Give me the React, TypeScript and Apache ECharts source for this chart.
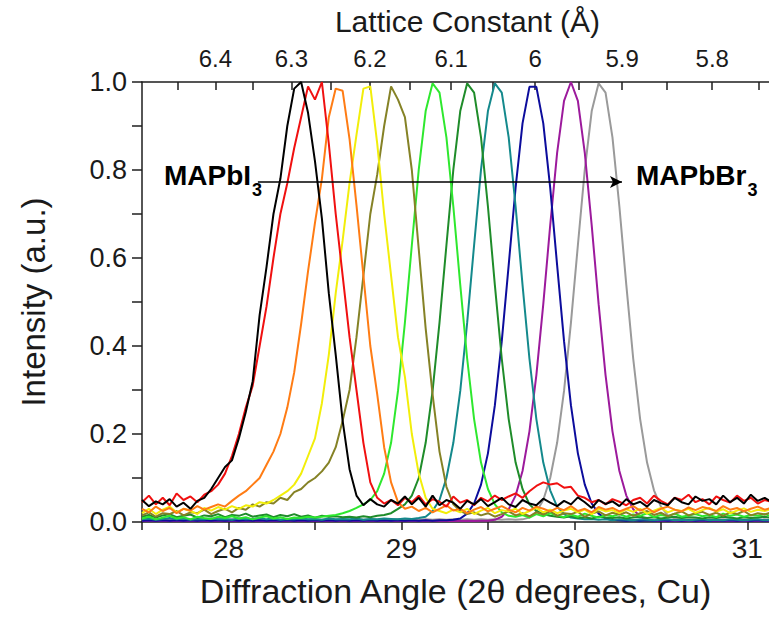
import React, { useEffect, useRef } from 'react';
import * as echarts from 'echarts';

const FONT = "'Liberation Sans', Arial, Helvetica, sans-serif";

// 2θ sampling grid (degrees)
const ANGLES = [
  27.50, 27.54, 27.58, 27.62, 27.66, 27.70, 27.74, 27.78, 27.82, 27.86,
  27.90, 27.94, 27.98, 28.02, 28.06, 28.10, 28.14, 28.18, 28.22, 28.26,
  28.30, 28.34, 28.38, 28.42, 28.46, 28.50, 28.54, 28.58, 28.62, 28.66,
  28.70, 28.74, 28.78, 28.82, 28.86, 28.90, 28.94, 28.98, 29.02, 29.06,
  29.10, 29.14, 29.18, 29.22, 29.26, 29.30, 29.34, 29.38, 29.42, 29.46,
  29.50, 29.54, 29.58, 29.62, 29.66, 29.70, 29.74, 29.78, 29.82, 29.86,
  29.90, 29.94, 29.98, 30.02, 30.06, 30.10, 30.14, 30.18, 30.22, 30.26,
  30.30, 30.34, 30.38, 30.42, 30.46, 30.50, 30.54, 30.58, 30.62, 30.66,
  30.70, 30.74, 30.78, 30.82, 30.86, 30.90, 30.94, 30.98, 31.02, 31.06,
  31.10, 31.14,
];

const BLACK = [
  0.050, 0.036, 0.047, 0.040, 0.052, 0.035, 0.044, 0.030, 0.048, 0.055,
  0.075, 0.100, 0.125, 0.140, 0.190, 0.250, 0.320, 0.470, 0.580, 0.700,
  0.780, 0.900, 0.985, 1.000, 0.930, 0.820, 0.690, 0.520, 0.380, 0.230,
  0.120, 0.060, 0.038, 0.052, 0.040, 0.035, 0.050, 0.042, 0.058, 0.040,
  0.055, 0.035, 0.060, 0.038, 0.050, 0.044, 0.030, 0.048, 0.040, 0.052,
  0.036, 0.045, 0.055, 0.040, 0.034, 0.050, 0.042, 0.038, 0.053, 0.044,
  0.036, 0.048, 0.040, 0.056, 0.045, 0.032, 0.050, 0.041, 0.047, 0.036,
  0.052, 0.040, 0.046, 0.035, 0.050, 0.043, 0.038, 0.055, 0.045, 0.040,
  0.058, 0.048, 0.052, 0.040, 0.060, 0.045, 0.055, 0.042, 0.062, 0.048,
  0.055, 0.045,
];

const RED = [
  0.045, 0.060, 0.040, 0.055, 0.038, 0.065, 0.050, 0.058, 0.045, 0.062,
  0.070, 0.085, 0.110, 0.150, 0.200, 0.260, 0.310, 0.400, 0.490, 0.600,
  0.700, 0.770, 0.850, 0.920, 0.990, 0.960, 1.000, 0.860, 0.700, 0.560,
  0.420, 0.300, 0.180, 0.090, 0.055, 0.042, 0.050, 0.038, 0.055, 0.045,
  0.060, 0.040, 0.052, 0.046, 0.035, 0.058, 0.044, 0.050, 0.038, 0.055,
  0.047, 0.060, 0.050, 0.058, 0.065, 0.055, 0.070, 0.082, 0.090, 0.085,
  0.088, 0.078, 0.080, 0.060, 0.055, 0.045, 0.050, 0.040, 0.052, 0.046,
  0.038, 0.050, 0.055, 0.042, 0.060, 0.048, 0.040, 0.055, 0.050, 0.062,
  0.045, 0.052, 0.040, 0.058, 0.050, 0.044, 0.060, 0.048, 0.055, 0.042,
  0.050, 0.046,
];

const ORANGE = [
  0.030, 0.022, 0.035, 0.025, 0.032, 0.020, 0.030, 0.026, 0.036, 0.028,
  0.034, 0.040, 0.035, 0.048, 0.060, 0.070, 0.085, 0.100, 0.130, 0.160,
  0.200, 0.260, 0.340, 0.450, 0.570, 0.680, 0.780, 0.920, 0.985, 0.980,
  0.870, 0.720, 0.560, 0.400, 0.290, 0.170, 0.090, 0.045, 0.030, 0.035,
  0.025, 0.032, 0.022, 0.030, 0.038, 0.026, 0.030, 0.020, 0.028, 0.034,
  0.024, 0.030, 0.036, 0.028, 0.022, 0.032, 0.026, 0.035, 0.030, 0.024,
  0.032, 0.027, 0.036, 0.025, 0.030, 0.022, 0.034, 0.028, 0.032, 0.024,
  0.030, 0.036, 0.026, 0.032, 0.022, 0.030, 0.035, 0.028, 0.024, 0.033,
  0.027, 0.034, 0.030, 0.025, 0.036, 0.028, 0.032, 0.024, 0.030, 0.035,
  0.028, 0.032,
];

const YELLOW = [
  0.020, 0.030, 0.018, 0.028, 0.035, 0.022, 0.030, 0.025, 0.018, 0.032,
  0.026, 0.034, 0.028, 0.036, 0.030, 0.038, 0.035, 0.045, 0.042, 0.050,
  0.060, 0.070, 0.085, 0.110, 0.150, 0.190, 0.270, 0.380, 0.520, 0.640,
  0.770, 0.880, 0.985, 0.990, 0.860, 0.700, 0.560, 0.420, 0.330, 0.200,
  0.110, 0.055, 0.030, 0.025, 0.020, 0.028, 0.022, 0.030, 0.018, 0.026,
  0.032, 0.020, 0.027, 0.024, 0.030, 0.018, 0.025, 0.032, 0.022, 0.028,
  0.020, 0.026, 0.030, 0.022, 0.028, 0.018, 0.030, 0.024, 0.027, 0.020,
  0.029, 0.023, 0.030, 0.019, 0.026, 0.032, 0.022, 0.028, 0.025, 0.030,
  0.021, 0.027, 0.032, 0.024, 0.029, 0.020, 0.026, 0.031, 0.023, 0.028,
  0.025, 0.030,
];

const OLIVE = [
  0.015, 0.022, 0.012, 0.020, 0.018, 0.025, 0.015, 0.022, 0.020, 0.028,
  0.018, 0.025, 0.030, 0.022, 0.032, 0.028, 0.040, 0.035, 0.045, 0.042,
  0.055, 0.050, 0.068, 0.075, 0.090, 0.100, 0.115, 0.135, 0.170, 0.230,
  0.300, 0.420, 0.560, 0.700, 0.790, 0.900, 0.990, 0.960, 0.920, 0.800,
  0.620, 0.440, 0.290, 0.160, 0.080, 0.040, 0.025, 0.018, 0.022, 0.015,
  0.020, 0.012, 0.018, 0.024, 0.015, 0.020, 0.013, 0.022, 0.017, 0.025,
  0.014, 0.020, 0.018, 0.023, 0.012, 0.019, 0.024, 0.015, 0.021, 0.017,
  0.022, 0.014, 0.020, 0.025, 0.016, 0.021, 0.013, 0.019, 0.024, 0.015,
  0.020, 0.023, 0.016, 0.021, 0.014, 0.022, 0.018, 0.025, 0.015, 0.020,
  0.017, 0.022,
];

const GREEN = [
  0.008, 0.012, 0.006, 0.010, 0.014, 0.008, 0.011, 0.006, 0.012, 0.009,
  0.007, 0.012, 0.009, 0.013, 0.008, 0.011, 0.006, 0.010, 0.013, 0.008,
  0.011, 0.007, 0.010, 0.009, 0.012, 0.010, 0.012, 0.014, 0.016, 0.020,
  0.025, 0.032, 0.040, 0.050, 0.070, 0.110, 0.180, 0.298, 0.453, 0.629,
  0.801, 0.934, 0.997, 0.976, 0.874, 0.717, 0.539, 0.371, 0.234, 0.135,
  0.075, 0.040, 0.022, 0.014, 0.012, 0.016, 0.010, 0.018, 0.013, 0.020,
  0.015, 0.011, 0.017, 0.012, 0.019, 0.014, 0.010, 0.016, 0.013, 0.018,
  0.012, 0.017, 0.014, 0.020, 0.011, 0.016, 0.013, 0.019, 0.012, 0.015,
  0.018, 0.013, 0.016, 0.011, 0.019, 0.014, 0.017, 0.012, 0.016, 0.014,
  0.018, 0.013,
];

const DARK_GREEN = [
  0.012, 0.016, 0.010, 0.015, 0.018, 0.011, 0.014, 0.017, 0.010, 0.015,
  0.013, 0.018, 0.011, 0.016, 0.014, 0.019, 0.012, 0.015, 0.017, 0.011,
  0.016, 0.013, 0.018, 0.012, 0.015, 0.010, 0.014, 0.012, 0.013, 0.011,
  0.012, 0.010, 0.013, 0.011, 0.014, 0.016, 0.020, 0.030, 0.040, 0.060,
  0.100, 0.180, 0.298, 0.453, 0.629, 0.801, 0.934, 0.997, 0.976, 0.874,
  0.717, 0.539, 0.371, 0.234, 0.135, 0.075, 0.040, 0.025, 0.018, 0.014,
  0.012, 0.010, 0.013, 0.009, 0.011, 0.008, 0.012, 0.010, 0.009, 0.011,
  0.008, 0.010, 0.012, 0.009, 0.011, 0.008, 0.010, 0.012, 0.009, 0.011,
  0.010, 0.008, 0.011, 0.009, 0.012, 0.010, 0.008, 0.011, 0.009, 0.010,
  0.012, 0.009,
];

const TEAL = [
  0.006, 0.008, 0.005, 0.007, 0.009, 0.006, 0.008, 0.005, 0.007, 0.006,
  0.008, 0.006, 0.007, 0.005, 0.008, 0.006, 0.007, 0.009, 0.006, 0.008,
  0.005, 0.007, 0.006, 0.008, 0.006, 0.007, 0.005, 0.008, 0.006, 0.007,
  0.006, 0.008, 0.005, 0.007, 0.006, 0.008, 0.007, 0.006, 0.008, 0.007,
  0.009, 0.012, 0.025, 0.050, 0.100, 0.180, 0.298, 0.453, 0.629, 0.801,
  0.934, 0.997, 0.976, 0.874, 0.717, 0.539, 0.371, 0.234, 0.135, 0.072,
  0.035, 0.018, 0.010, 0.008, 0.006, 0.007, 0.005, 0.006, 0.004, 0.006,
  0.005, 0.004, 0.006, 0.005, 0.004, 0.005, 0.006, 0.004, 0.005, 0.004,
  0.005, 0.006, 0.004, 0.005, 0.004, 0.006, 0.005, 0.004, 0.005, 0.006,
  0.004, 0.005,
];

const BLUE = [
  0.003, 0.004, 0.003, 0.004, 0.003, 0.004, 0.003, 0.004, 0.003, 0.004,
  0.003, 0.004, 0.003, 0.004, 0.003, 0.004, 0.003, 0.004, 0.003, 0.004,
  0.003, 0.004, 0.003, 0.004, 0.003, 0.004, 0.003, 0.004, 0.003, 0.004,
  0.003, 0.004, 0.003, 0.004, 0.003, 0.004, 0.003, 0.004, 0.003, 0.004,
  0.003, 0.004, 0.003, 0.004, 0.004, 0.005, 0.008, 0.019, 0.042, 0.085,
  0.156, 0.265, 0.411, 0.584, 0.760, 0.906, 0.989, 0.989, 0.906, 0.760,
  0.584, 0.411, 0.265, 0.156, 0.085, 0.042, 0.019, 0.008, 0.005, 0.004,
  0.003, 0.004, 0.003, 0.004, 0.003, 0.004, 0.003, 0.004, 0.003, 0.004,
  0.003, 0.004, 0.003, 0.004, 0.003, 0.004, 0.003, 0.004, 0.003, 0.004,
  0.003, 0.004,
];

const PURPLE = [
  0.002, 0.003, 0.002, 0.003, 0.002, 0.003, 0.002, 0.003, 0.002, 0.003,
  0.002, 0.003, 0.002, 0.003, 0.002, 0.003, 0.002, 0.003, 0.002, 0.003,
  0.002, 0.003, 0.002, 0.003, 0.002, 0.003, 0.002, 0.003, 0.002, 0.003,
  0.002, 0.003, 0.002, 0.003, 0.002, 0.003, 0.002, 0.003, 0.002, 0.003,
  0.002, 0.003, 0.002, 0.003, 0.002, 0.003, 0.002, 0.003, 0.002, 0.003,
  0.003, 0.005, 0.012, 0.029, 0.060, 0.116, 0.206, 0.334, 0.495, 0.674,
  0.839, 0.957, 1.000, 0.957, 0.839, 0.674, 0.495, 0.334, 0.206, 0.116,
  0.060, 0.029, 0.012, 0.005, 0.003, 0.002, 0.003, 0.002, 0.003, 0.002,
  0.003, 0.002, 0.003, 0.002, 0.003, 0.002, 0.003, 0.002, 0.003, 0.002,
  0.003, 0.002,
];

const GRAY = [
  0.005, 0.006, 0.005, 0.006, 0.005, 0.006, 0.005, 0.006, 0.005, 0.006,
  0.005, 0.006, 0.005, 0.006, 0.005, 0.006, 0.005, 0.006, 0.005, 0.006,
  0.005, 0.006, 0.005, 0.006, 0.005, 0.006, 0.005, 0.006, 0.005, 0.006,
  0.005, 0.006, 0.005, 0.006, 0.005, 0.006, 0.005, 0.006, 0.005, 0.006,
  0.005, 0.006, 0.005, 0.006, 0.005, 0.006, 0.005, 0.006, 0.005, 0.006,
  0.005, 0.006, 0.005, 0.006, 0.005, 0.006, 0.010, 0.023, 0.050, 0.100,
  0.180, 0.298, 0.453, 0.629, 0.801, 0.934, 0.997, 0.976, 0.874, 0.717,
  0.539, 0.371, 0.234, 0.135, 0.072, 0.035, 0.015, 0.008, 0.006, 0.005,
  0.006, 0.005, 0.006, 0.005, 0.006, 0.005, 0.006, 0.005, 0.006, 0.005,
  0.006, 0.005,
];

const CURVES = [
  { name: 'Scan 11', color: '#9a9a9a', values: GRAY },
  { name: 'Scan 10', color: '#9c1a9c', values: PURPLE },
  { name: 'Scan 9', color: '#0c0c9c', values: BLUE },
  { name: 'Scan 8', color: '#14898c', values: TEAL },
  { name: 'Scan 7', color: '#1f8c2a', values: DARK_GREEN },
  { name: 'Scan 6', color: '#2ee82e', values: GREEN },
  { name: 'Scan 5', color: '#858226', values: OLIVE },
  { name: 'Scan 4', color: '#f2ee0a', values: YELLOW },
  { name: 'Scan 3', color: '#ff7c14', values: ORANGE },
  { name: 'Scan 2', color: '#f01010', values: RED },
  { name: 'Scan 1', color: '#000000', values: BLACK },
];

// axis ranges / ticks
const X_MIN = 27.5;
const X_MAX = 31.125;
const X_INTERVAL = 0.5;
const Y_MIN = 0;
const Y_MAX = 1;
const Y_INTERVAL = 0.2;

// top axis: lattice constant (Å)
const LATTICE_TICKS = [6.45, 6.4, 6.35, 6.3, 6.25, 6.2, 6.15, 6.1, 6.05, 6.0, 5.95, 5.9, 5.85, 5.8, 5.75];
const LATTICE_LABELS = [6.4, 6.3, 6.2, 6.1, 6.0, 5.9, 5.8];
// calibration of the top scale: 2θ = 2·asin(λ/a) + offset (fitted to the reference's tick marks)
const CAL_WAVELENGTH = 1.5029;
const CAL_OFFSET = 0.761;
const latticeToAngle = (a: number) => (2 * Math.asin(CAL_WAVELENGTH / a) * 180) / Math.PI + CAL_OFFSET;
const angleToLattice = (t: number) => CAL_WAVELENGTH / Math.sin((((t - CAL_OFFSET) / 2) * Math.PI) / 180);

// annotation arrow (data coordinates)
const ARROW_Y = 0.773;
const ARROW_START = 28.17;
const ARROW_END = 30.275;
const LEFT_LABEL_ANCHOR = 28.2;
const LEFT_LABEL = ['MAPbI', '3'];
const RIGHT_LABEL = ['MAPbBr', '3'];

const RICH = {
  m: { fontSize: 28, fontWeight: 'bold', color: '#000', fontFamily: FONT, lineHeight: 28, padding: [0, 0, 12, 0] },
  s: { fontSize: 18, fontWeight: 'bold', color: '#000', fontFamily: FONT, lineHeight: 18, padding: [16, 0, 0, 1] },
};

export default function App() {
  const ref = useRef<HTMLDivElement | null>(null);

  useEffect(() => {
    if (!ref.current) return;
    const chart = echarts.init(ref.current, undefined, { renderer: 'svg' });
    const axisColor = '#1e1e1e';
    const textColor = '#1a1a1a';

    const series: any[] = CURVES.map((c) => ({
      name: c.name,
      type: 'line',
      xAxisIndex: 0,
      yAxisIndex: 0,
      data: ANGLES.map((a, i) => [a, c.values[i]]),
      showSymbol: false,
      symbol: 'none',
      lineStyle: { color: c.color, width: 2 },
      itemStyle: { color: c.color },
      clip: true,
      silent: true,
    }));

    series[series.length - 1].markLine = {
      silent: true,
      animation: false,
      data: [
        [
          {
            coord: [ARROW_START, ARROW_Y],
            symbol: 'none',
            lineStyle: { color: '#000', width: 1.6, type: 'solid' },
            label: {
              show: true,
              position: 'end',
              distance: 14,
              formatter: `{m|${RIGHT_LABEL[0]}}{s|${RIGHT_LABEL[1]}}`,
              rich: RICH,
            },
          },
          { coord: [ARROW_END, ARROW_Y], symbol: 'arrow', symbolSize: [9, 12] },
        ],
        [
          {
            coord: [LEFT_LABEL_ANCHOR, ARROW_Y],
            symbol: 'none',
            lineStyle: { color: 'rgba(0,0,0,0)', width: 1, type: 'solid' },
            label: {
              show: true,
              position: 'start',
              distance: 1,
              formatter: `{m|${LEFT_LABEL[0]}}{s|${LEFT_LABEL[1]}}`,
              rich: RICH,
            },
          },
          { coord: [ARROW_START + 0.3, ARROW_Y], symbol: 'none' },
        ],
      ],
    };

    chart.setOption({
      animation: false,
      backgroundColor: '#ffffff',
      grid: { left: 142, right: 0, top: 82, bottom: 95, containLabel: false },
      xAxis: [
        {
          type: 'value',
          position: 'bottom',
          min: X_MIN,
          max: X_MAX,
          interval: X_INTERVAL,
          axisLine: { show: true, onZero: false, lineStyle: { color: axisColor, width: 1.5 } },
          axisTick: { show: true, length: 8, lineStyle: { color: axisColor, width: 1.5 } },
          axisLabel: {
            fontSize: 28,
            color: textColor,
            fontFamily: FONT,
            margin: 12,
            showMaxLabel: false,
            formatter: (v: number) => (Math.abs(v - Math.round(v)) < 1e-6 ? String(Math.round(v)) : ''),
          },
          splitLine: { show: false },
          name: 'Diffraction Angle (2θ degrees, Cu)',
          nameLocation: 'middle',
          nameGap: 52,
          nameTextStyle: { fontSize: 34, color: textColor, fontFamily: FONT },
        },
        {
          type: 'value',
          position: 'top',
          min: X_MIN,
          max: X_MAX,
          axisLine: { show: true, onZero: false, lineStyle: { color: axisColor, width: 1.5 } },
          axisTick: {
            show: true,
            inside: true,
            length: 8,
            lineStyle: { color: axisColor, width: 1.5 },
            customValues: LATTICE_TICKS.map(latticeToAngle),
          },
          axisLabel: {
            fontSize: 24,
            color: textColor,
            fontFamily: FONT,
            margin: 12,
            customValues: LATTICE_LABELS.map(latticeToAngle),
            formatter: (v: number) => String(Math.round(angleToLattice(v) * 100) / 100),
          },
          splitLine: { show: false },
          name: 'Lattice Constant (Å)',
          nameLocation: 'middle',
          nameGap: 46,
          nameTextStyle: { fontSize: 30, color: textColor, fontFamily: FONT, padding: [0, 0, 0, 24] },
        },
      ],
      yAxis: {
        type: 'value',
        min: Y_MIN,
        max: Y_MAX,
        interval: Y_INTERVAL,
        axisLine: { show: true, onZero: false, lineStyle: { color: axisColor, width: 1.5 } },
        axisTick: { show: true, length: 10, lineStyle: { color: axisColor, width: 1.5 } },
        minorTick: { show: true, splitNumber: 2, length: 10, lineStyle: { color: axisColor, width: 1.5 } },
        axisLabel: {
          fontSize: 27,
          color: textColor,
          fontFamily: FONT,
          margin: 15,
          formatter: (v: number) => v.toFixed(1),
        },
        splitLine: { show: false },
        minorSplitLine: { show: false },
        name: 'Intensity (a.u.)',
        nameLocation: 'middle',
        nameGap: 92,
        nameRotate: 90,
        nameTextStyle: { fontSize: 33, color: textColor, fontFamily: FONT },
      },
      series,
    });

    return () => chart.dispose();
  }, []);

  return (
    <div
      ref={ref}
      style={{ position: 'fixed', left: 0, top: 0, width: 769, height: 617, background: '#fff' }}
    />
  );
}
